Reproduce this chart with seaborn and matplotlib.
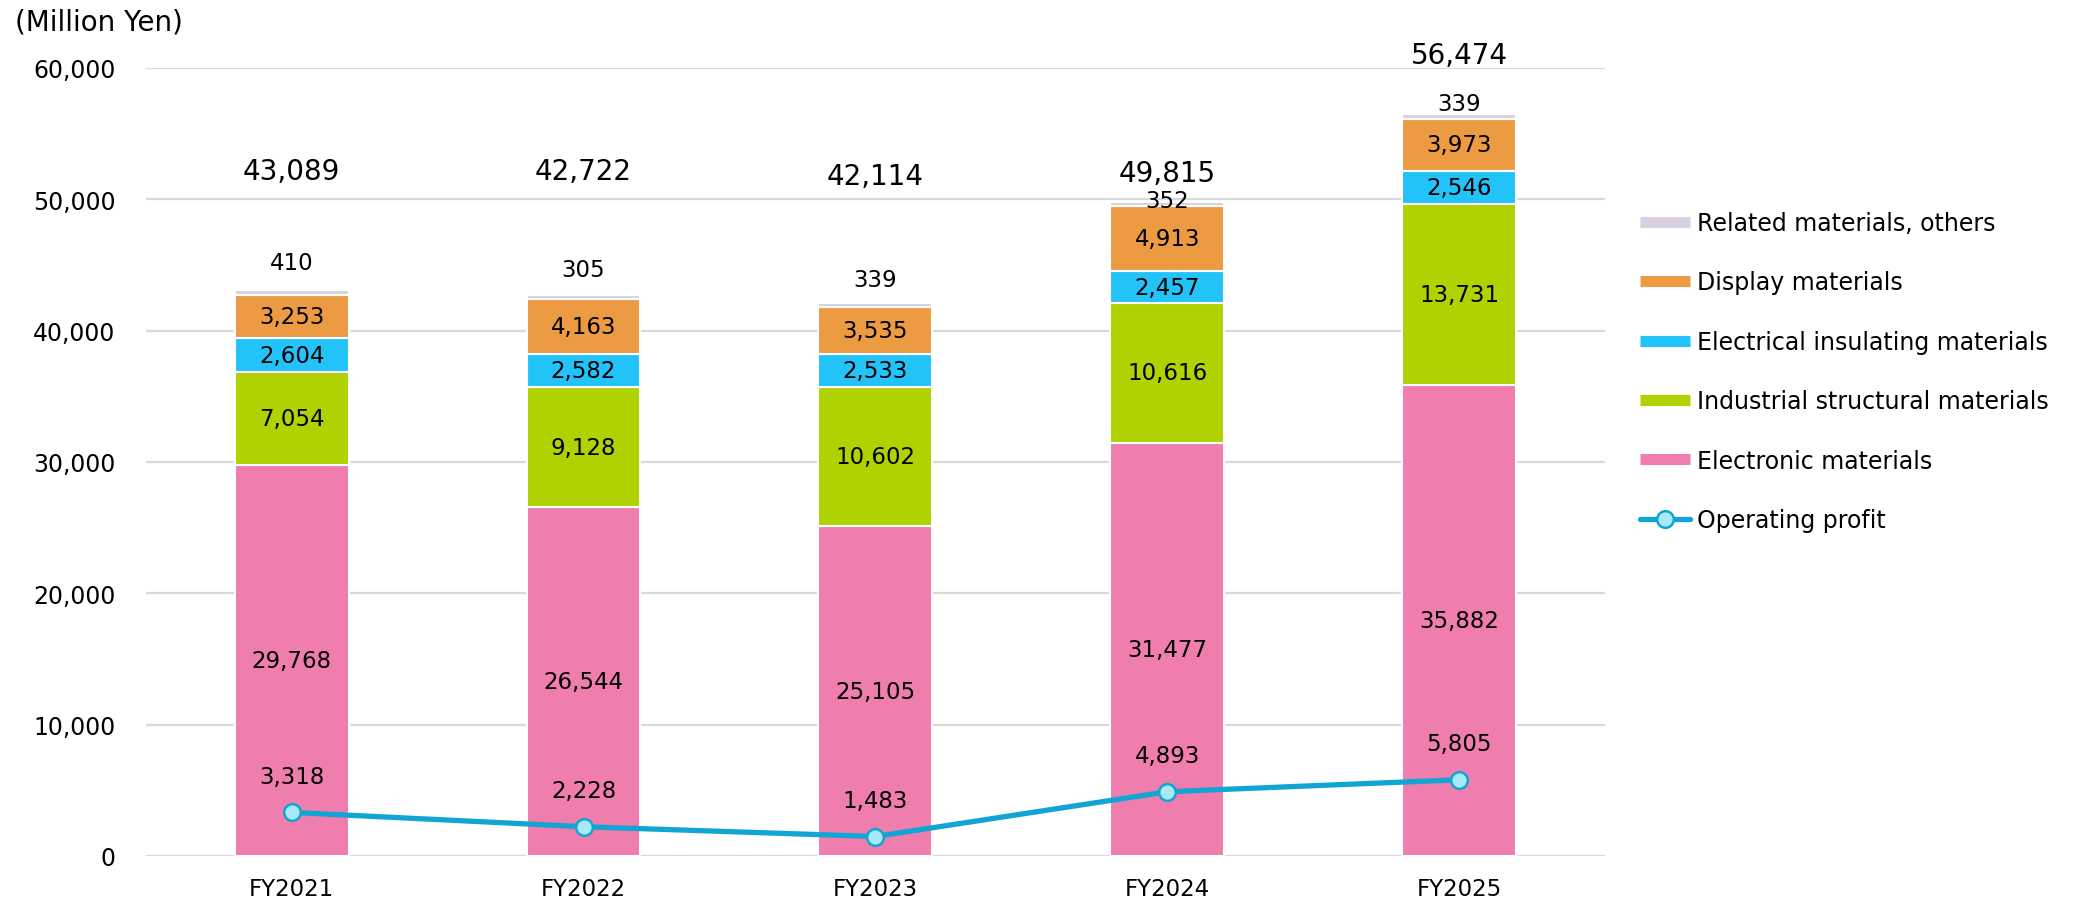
import matplotlib
matplotlib.use("Agg")
import matplotlib.pyplot as plt
from matplotlib.lines import Line2D
import seaborn as sns
import numpy as np
import pandas as pd

##### Données (millions de yens)
years = ["FY2021", "FY2022", "FY2023", "FY2024", "FY2025"]
electronic = [29768, 26544, 25105, 31477, 35882]
industrial = [7054, 9128, 10602, 10616, 13731]
electrical = [2604, 2582, 2533, 2457, 2546]
display = [3253, 4163, 3535, 4913, 3973]
related = [410, 305, 339, 352, 339]
totals = [43089, 42722, 42114, 49815, 56474]
op_profit = [3318, 2228, 1483, 4893, 5805]

segment_names = ["Electronic materials", "Industrial structural materials",
                 "Electrical insulating materials", "Display materials",
                 "Related materials, others"]
segment_colors = ["#EF7DAD", "#B0D200", "#22C3F9", "#EC9B43", "#D8D0E0"]
line_color = "#10A5D3"
marker_face = "#A8E9F9"

# décalages manuels des étiquettes (en points), comme sur l'original
related_label_offset = [20, 18, 17, 1, 8]
total_label_offset = [86, 89, 91, 21, 43]

sns.set_theme(style="white")
plt.rcParams["font.family"] = ["DejaVu Sans"]
plt.rcParams["text.color"] = "black"
plt.rcParams["xtick.color"] = "black"
plt.rcParams["ytick.color"] = "black"

df = pd.DataFrame({"year": years, "electronic": electronic, "industrial": industrial,
                   "electrical": electrical, "display": display, "related": related})
series = ["electronic", "industrial", "electrical", "display", "related"]

fig = plt.figure(figsize=(20.83, 9.04), dpi=100)
ax = fig.add_axes([0.070, 0.052, 0.7005, 0.8717])

bottom = np.zeros(len(years))
for col, color in zip(series, segment_colors):
    sns.barplot(data=df, x="year", y=col, color=color, width=0.39, bottom=bottom,
                edgecolor="white", linewidth=1.5, saturation=1, ax=ax, zorder=2)
    vals = df[col].values
    if col != "related":
        for i, v in enumerate(vals):
            ax.text(i, bottom[i] + v / 2, f"{v:,}", ha="center", va="center",
                    fontsize=16.5, color="black", zorder=5)
    else:
        for i, v in enumerate(vals):
            ax.annotate(f"{v:,}", (i, bottom[i] + v), xytext=(0, related_label_offset[i]),
                        textcoords="offset points", ha="center", va="center",
                        fontsize=16.5, zorder=5)
    bottom = bottom + vals

# Totaux au-dessus des barres
for i, t in enumerate(totals):
    ax.annotate(f"{t:,}", (i, t), xytext=(0, total_label_offset[i]),
                textcoords="offset points", ha="center", va="center",
                fontsize=20, annotation_clip=False, zorder=5)

# Résultat opérationnel
x_pos = np.arange(len(years))
sns.lineplot(x=x_pos, y=op_profit, color=line_color, linewidth=3.8, marker="o",
             markersize=12, markerfacecolor=marker_face, markeredgecolor=line_color,
             markeredgewidth=1.8, ax=ax, zorder=4)
for i, v in enumerate(op_profit):
    ax.annotate(f"{v:,}", (i, v), xytext=(0, 26), textcoords="offset points",
                ha="center", va="center", fontsize=16.5, zorder=5)

ax.set_xlim(-0.5, len(years) - 0.5)
ax.set_ylim(0, 60000)
ax.set_yticks(range(0, 60001, 10000))
ax.set_yticklabels([f"{v:,}" for v in range(0, 60001, 10000)])
ax.set_xticks(x_pos)
ax.set_xticklabels(years)
ax.tick_params(axis="y", length=0, pad=22, labelsize=17)
ax.tick_params(axis="x", length=0, pad=15, labelsize=16.5)
ax.set_xlabel("")
ax.set_ylabel("")
ax.yaxis.grid(True, color="#D9D9D9", linewidth=1.6, zorder=0)
ax.set_axisbelow(True)
for s in ax.spines.values():
    s.set_visible(False)

fig.text(0.007, 0.975, "(Million Yen)", fontsize=20, ha="left", va="center")

# Légende
handles = [Line2D([0], [0], color=c, linewidth=8, solid_capstyle="butt")
           for c in segment_colors[::-1]]
handles.append(Line2D([0], [0], color=line_color, linewidth=3.8, marker="o",
                      markersize=12, markerfacecolor=marker_face,
                      markeredgecolor=line_color, markeredgewidth=1.8))
labels = segment_names[::-1] + ["Operating profit"]
fig.legend(handles, labels, loc="upper left", bbox_to_anchor=(0.783, 0.776),
           frameon=False, fontsize=17, handlelength=2.1, handletextpad=0.3,
           labelspacing=1.5, borderaxespad=0)

fig.savefig("out.png", dpi=100)
